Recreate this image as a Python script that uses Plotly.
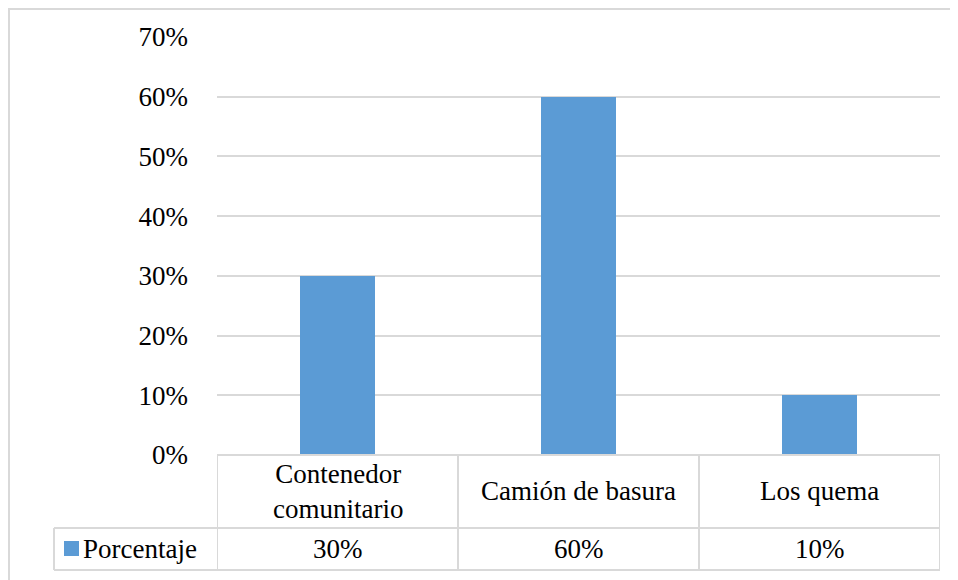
import plotly.graph_objects as go

categories = ["Contenedor<br>comunitario", "Camión de basura", "Los quema"]
values = [0.30, 0.60, 0.10]
series_name = "Porcentaje"
y_ticks = [0, 0.1, 0.2, 0.3, 0.4, 0.5, 0.6, 0.7]

BAR_COLOR = "#5b9bd5"
GRID = "#d9d9d9"
FONT = "'Liberation Serif', 'Times New Roman', 'DejaVu Serif', serif"
TXT = dict(family=FONT, size=27, color="black")

# the page puts the figure 8px in from the top-left corner
OFF = 8
W, H = 958, 580
L, R, T, B = 217 - OFF, 18 + OFF, 37 - OFF, 125 + OFF
PW, PH = W - L - R, H - T - B


def px_x(x):
    return (x - OFF - L) / PW


def px_y(y):
    return (H - B - (y - OFF)) / PH


xs = list(range(len(categories)))

fig = go.Figure()
fig.add_trace(go.Bar(
    x=xs, y=values, name=series_name,
    marker=dict(color=BAR_COLOR, line=dict(width=0)),
    width=0.315, showlegend=False,
))

shapes = []
line = dict(color=GRID, width=2)
# outer chart border
shapes.append(dict(type="rect", xref="paper", yref="paper",
                   x0=px_x(9), x1=px_x(970), y0=px_y(9), y1=px_y(590),
                   line=line, layer="below"))
# data table
row1_top, row2_top, row2_bot = 0, px_y(528), px_y(570)
shapes.append(dict(type="line", xref="x", yref="paper", x0=-0.5, x1=len(xs) - 0.5,
                   y0=row1_top, y1=row1_top, line=line))
for yy in (row2_top, row2_bot):
    shapes.append(dict(type="line", xref="paper", yref="paper", x0=px_x(54), x1=1,
                       y0=yy, y1=yy, line=line))
shapes.append(dict(type="line", xref="paper", yref="paper", x0=px_x(54), x1=px_x(54),
                   y0=row2_top, y1=row2_bot, line=line))
for i in range(len(xs) + 1):
    shapes.append(dict(type="line", xref="x", yref="paper", x0=i - 0.5, x1=i - 0.5,
                       y0=row1_top, y1=row2_bot, line=line))
# legend key
shapes.append(dict(type="rect", xref="paper", yref="paper",
                   x0=px_x(64), x1=px_x(79), y0=px_y(541), y1=px_y(556),
                   fillcolor=BAR_COLOR, line=dict(width=0)))

annotations = []
for x, cat, v in zip(xs, categories, values):
    annotations.append(dict(x=x, y=px_y(491), xref="x", yref="paper", text=cat,
                            showarrow=False, xanchor="center", yanchor="middle",
                            font=TXT))
    annotations.append(dict(x=x, y=px_y(549), xref="x", yref="paper",
                            text=f"{v:.0%}", showarrow=False, xanchor="center",
                            yanchor="middle", font=TXT))
annotations.append(dict(x=px_x(83), y=px_y(549), xref="paper", yref="paper",
                        text=series_name, showarrow=False, xanchor="left",
                        yanchor="middle", xshift=-2, font=TXT))

fig.update_layout(
    width=W, height=H,
    margin=dict(l=L, r=R, t=T, b=B),
    plot_bgcolor="white", paper_bgcolor="white",
    font=TXT,
    shapes=shapes, annotations=annotations,
    xaxis=dict(range=[-0.5, len(xs) - 0.5], showticklabels=False, showgrid=False,
               zeroline=False, showline=False, fixedrange=True),
    yaxis=dict(range=[0, 0.7], tickvals=y_ticks, tickformat=".0%",
               showgrid=True, gridcolor=GRID, gridwidth=2, zeroline=False,
               showline=False, ticks="", ticklabelstandoff=28,
               tickfont=TXT),
    bargap=0,
)

fig.write_html("out.html")
